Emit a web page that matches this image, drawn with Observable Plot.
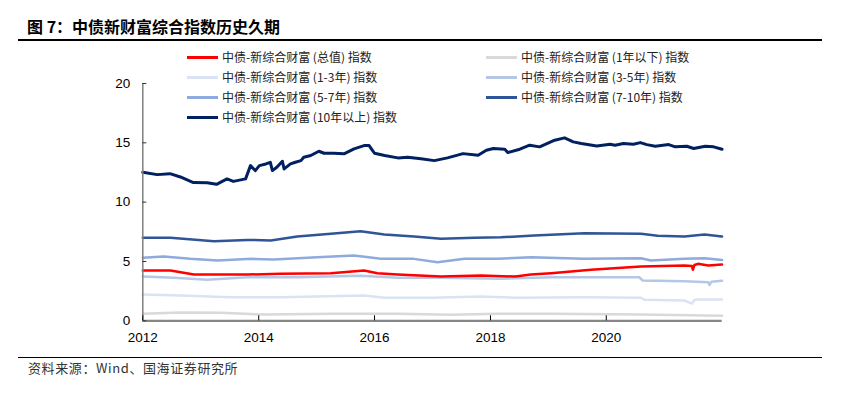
<!DOCTYPE html>
<html>
<head>
<meta charset="utf-8">
<script src="https://cdn.jsdelivr.net/npm/d3@7"></script>
<script src="https://cdn.jsdelivr.net/npm/@observablehq/plot@0.6"></script>
<style>
  html, body { margin: 0; padding: 0; background: #fff; }
  #wrap { position: relative; width: 855px; height: 397px; overflow: hidden; background: #fff; }
  #title { position: absolute; left: 27px; top: 15px; font-family: "Noto Sans CJK SC", sans-serif; font-weight: 700; font-size: 16px; color: #000; white-space: nowrap; line-height: 22px; }
  .rule { position: absolute; left: 18px; width: 804px; background: #000; }
  #chart { position: absolute; left: 0; top: 0; }
  .leg { position: absolute; font-family: "Noto Sans CJK SC", sans-serif; font-size: 12px; color: #222; white-space: nowrap; line-height: 16px; }
  .sw { position: absolute; width: 31px; height: 3px; }
  #source { position: absolute; left: 28px; top: 358px; font-family: "Noto Sans CJK SC", sans-serif; font-size: 13px; color: #333; white-space: nowrap; line-height: 20px; letter-spacing: 0.6px; }
</style>
</head>
<body>
<div id="wrap">
  <div id="title">图 7：中债新财富综合指数历史久期</div>
  <div class="rule" style="top:38.5px;height:2px"></div>
  <div id="chart"></div>
  <div id="legend"></div>
  <div class="rule" style="top:356.5px;height:1.3px"></div>
  <div id="source">资料来源：Wind、国海证券研究所</div>
</div>
<script>
// ---- data ----
const seriesNames = [
  "中债-新综合财富 (总值) 指数",
  "中债-新综合财富 (1年以下) 指数",
  "中债-新综合财富 (1-3年) 指数",
  "中债-新综合财富 (3-5年) 指数",
  "中债-新综合财富 (5-7年) 指数",
  "中债-新综合财富 (7-10年) 指数",
  "中债-新综合财富 (10年以上) 指数"
];
const seriesColors = ["#ff0000", "#d9d9d9", "#dae3f3", "#b4c7e7", "#8faadc", "#2f5597", "#002060"];

const durTotal = [
  ["2012-01-01",4.24],["2012-06-24",4.24],["2012-11-18",3.90],["2013-04-16",3.90],["2013-10-20",3.90],
  ["2014-05-18",3.96],["2015-04-01",4.01],["2015-10-27",4.24],["2016-01-19",4.01],["2016-05-26",3.90],
  ["2017-02-23",3.73],["2017-11-03",3.82],["2018-05-30",3.73],["2018-06-20",3.76],["2018-09-12",3.90],
  ["2019-01-18",4.01],["2019-09-26",4.30],["2020-08-07",4.57],["2021-05-08",4.66],["2021-06-24",4.62],
  ["2021-06-30",4.30],["2021-07-10",4.70],["2021-08-01",4.80],["2021-10-05",4.66],["2021-12-31",4.74]
];
const durUnder1 = [
  ["2012-01-01",0.59],["2012-08-25",0.70],["2013-05-05",0.67],["2014-02-03",0.53],["2015-04-01",0.59],
  ["2016-05-26",0.59],["2017-04-27",0.51],["2018-02-17",0.59],["2019-01-18",0.59],["2020-08-07",0.53],
  ["2021-12-31",0.43]
];
const dur1to3 = [
  ["2012-01-01",2.22],["2012-08-25",2.13],["2013-07-08",1.99],["2014-05-18",1.99],["2015-10-27",2.13],
  ["2016-03-03",1.94],["2016-12-20",1.94],["2017-11-03",2.05],["2018-06-20",1.94],["2019-08-16",1.99],
  ["2020-08-07",1.94],["2020-08-28",1.77],["2021-05-08",1.71],["2021-06-24",1.45],["2021-07-10",1.75],
  ["2021-08-01",1.80],["2021-12-31",1.79]
];
const dur3to5 = [
  ["2012-01-01",3.73],["2012-07-15",3.62],["2013-02-10",3.45],["2013-10-20",3.67],["2014-09-01",3.67],
  ["2015-10-05",3.79],["2016-05-26",3.62],["2017-02-23",3.62],["2018-03-08",3.54],["2019-01-18",3.67],
  ["2020-07-27",3.67],["2020-08-18",3.40],["2021-05-08",3.34],["2021-10-05",3.25],["2021-10-13",3.02],
  ["2021-10-25",3.30],["2021-12-31",3.37]
];
const dur5to7 = [
  ["2012-01-01",5.31],["2012-05-12",5.41],["2012-10-27",5.22],["2013-04-16",5.08],["2013-11-20",5.22],
  ["2014-04-06",5.16],["2015-01-05",5.36],["2015-08-25",5.50],["2016-02-10",5.22],["2016-09-06",5.22],
  ["2017-02-01",4.94],["2017-07-20",5.22],["2018-02-17",5.22],["2018-09-12",5.36],["2019-08-16",5.22],
  ["2020-08-07",5.27],["2020-10-09",5.08],["2021-05-08",5.22],["2021-09-12",5.27],["2021-12-31",5.12]
];
const dur7to10 = [
  ["2012-01-01",6.99],["2012-06-24",6.99],["2013-03-25",6.71],["2013-10-20",6.82],["2014-03-18",6.77],
  ["2014-09-01",7.10],["2015-04-01",7.33],["2015-10-05",7.55],["2016-03-03",7.27],["2016-09-06",7.10],
  ["2017-02-23",6.91],["2017-09-22",6.99],["2018-03-08",7.04],["2018-10-04",7.19],["2019-08-16",7.38],
  ["2020-08-07",7.33],["2020-11-20",7.16],["2021-05-08",7.10],["2021-09-12",7.27],["2021-12-31",7.10]
];
const dur10plus = [
  ["2012-01-01",12.52],["2012-04-01",12.32],["2012-06-20",12.40],["2012-08-25",12.12],["2012-11-15",11.65],
  ["2013-02-10",11.63],["2013-04-10",11.50],["2013-06-15",11.96],["2013-07-25",11.75],["2013-10-10",11.96],
  ["2013-11-10",13.08],["2013-12-10",12.66],["2014-01-05",13.08],["2014-02-15",13.22],["2014-03-15",13.36],
  ["2014-03-28",12.66],["2014-04-25",12.94],["2014-05-30",13.45],["2014-06-10",12.80],["2014-07-20",13.22],
  ["2014-08-20",13.36],["2014-09-24",13.50],["2014-10-12",13.78],["2014-11-25",13.93],["2015-01-15",14.29],
  ["2015-02-17",14.12],["2015-04-20",14.12],["2015-06-22",14.07],["2015-08-25",14.49],["2015-10-27",14.77],
  ["2015-11-28",14.77],["2015-12-20",14.35],["2016-01-01",14.12],["2016-03-05",13.93],["2016-05-27",13.73],
  ["2016-07-28",13.78],["2016-10-20",13.65],["2017-01-12",13.50],["2017-04-05",13.73],["2017-07-12",14.09],
  ["2017-10-15",13.95],["2017-12-06",14.37],["2018-01-19",14.52],["2018-04-01",14.46],["2018-04-20",14.18],
  ["2018-07-05",14.46],["2018-09-05",14.80],["2018-11-07",14.66],["2019-02-10",15.22],["2019-04-13",15.42],
  ["2019-06-07",15.08],["2019-07-28",14.94],["2019-11-02",14.74],["2020-01-26",14.88],["2020-02-25",14.79],
  ["2020-04-18",14.94],["2020-06-20",14.88],["2020-08-03",15.02],["2020-09-13",14.85],["2020-11-05",14.71],
  ["2021-01-29",14.85],["2021-03-11",14.66],["2021-05-23",14.71],["2021-07-05",14.52],["2021-09-16",14.71],
  ["2021-11-08",14.66],["2021-12-31",14.46]
];
const seriesData = [durTotal, durUnder1, dur1to3, dur3to5, dur5to7, dur7to10, dur10plus];

const yTicks = [0, 5, 10, 15, 20];
const xTickYears = ["2012-01-01", "2014-01-01", "2016-01-01", "2018-01-01", "2020-01-01"];
const xDomain = ["2012-01-01", "2022-01-01"];

// ---- build table ----
const rows = [];
seriesData.forEach((arr, i) => {
  arr.forEach(([d, v]) => rows.push({name: seriesNames[i], date: new Date(d + "T00:00:00Z"), value: v}));
});
// draw order: gray & blues first, red on top
const drawOrder = [1, 2, 3, 4, 5, 6, 0];

const lineMarks = drawOrder.map(i => Plot.line(rows.filter(r => r.name === seriesNames[i]), {
  x: "date", y: "value",
  stroke: seriesColors[i],
  strokeWidth: i === 6 ? 3 : 2.5,
  strokeLinejoin: "round", strokeLinecap: "round"
}));

const chart = Plot.plot({
  width: 855, height: 397,
  marginLeft: 142.3, marginRight: 133.3, marginTop: 83, marginBottom: 76.7,
  x: {type: "utc", domain: xDomain.map(d => new Date(d + "T00:00:00Z"))},
  y: {domain: [0, 20]},
  style: {fontFamily: "'Liberation Sans', Arial, sans-serif", fontSize: "13.5px", color: "#000", background: "transparent", overflow: "visible"},
  marks: [
    ...lineMarks,
    Plot.ruleX([new Date(xDomain[0] + "T00:00:00Z")], {stroke: "#7f7f7f", strokeWidth: 1.5}),
    Plot.ruleY([0], {stroke: "#868686", strokeWidth: 2.2}),
    Plot.axisY(yTicks, {tickSize: -4, tickPadding: 16.5, stroke: "#333", label: null}),
    Plot.axisX(xTickYears.map(d => new Date(d + "T00:00:00Z")), {tickSize: -5, tickPadding: 16.5, tickFormat: "%Y", stroke: "#000", label: null})
  ]
});
document.getElementById("chart").appendChild(chart);

// ---- legend (HTML overlay) ----
const legendSlots = [
  {i: 0, col: 0, row: 0}, {i: 1, col: 1, row: 0},
  {i: 2, col: 0, row: 1}, {i: 3, col: 1, row: 1},
  {i: 4, col: 0, row: 2}, {i: 5, col: 1, row: 2},
  {i: 6, col: 0, row: 3}
];
const legend = document.getElementById("legend");
legendSlots.forEach(({i, col, row}) => {
  const cy = 57.3 + row * 20;
  const sx = col === 0 ? 187 : 486;
  const sw = document.createElement("div");
  sw.className = "sw";
  sw.style.left = sx + "px";
  sw.style.top = (cy - 1.5) + "px";
  sw.style.background = seriesColors[i];
  legend.appendChild(sw);
  const t = document.createElement("div");
  t.className = "leg";
  t.style.left = (sx + 35) + "px";
  t.style.top = (cy - 8.5) + "px";
  t.textContent = seriesNames[i];
  legend.appendChild(t);
});
</script>
</body>
</html>
